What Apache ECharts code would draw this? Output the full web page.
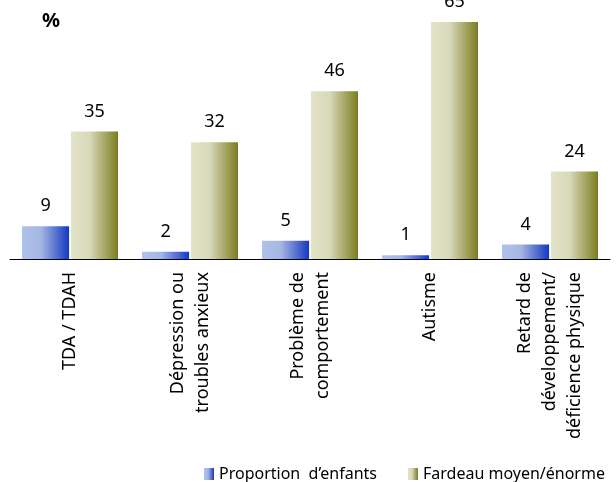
<!DOCTYPE html>
<html>
<head>
<meta charset="utf-8">
<script src="https://cdn.jsdelivr.net/npm/echarts@6/dist/echarts.min.js"></script>
<style>
html,body{margin:0;padding:0;background:#fff;}
#chart{width:616px;height:482px;}
</style>
</head>
<body>
<div id="chart"></div>
<script>
var categories = ["TDA / TDAH", "Dépression ou\ntroubles anxieux", "Problème de\ncomportement", "Autisme", "Retard de\ndéveloppement/\ndéficience physique"];
var seriesNames = ["Proportion  d’enfants", "Fardeau moyen/énorme"];
var proportionEnfants = [9, 2, 5, 1, 4];
var fardeau = [35, 32, 46, 65, 24];

var FONT = "Noto Sans";
function grad(c0, c1, c2) {
  return {type:'linear', x:0, y:0, x2:1, y2:0, colorStops:[
    {offset:0, color:c0},{offset:0.4, color:c1},{offset:1, color:c2}]};
}
var chart = echarts.init(document.getElementById('chart'), null, {renderer:'canvas'});
chart.setOption({
  animation:false,
  textStyle:{fontFamily:FONT},
  graphic:[{type:'text', left:42, top:11, style:{text:'%', font:'bold 20px "'+FONT+'"', fill:'#000'}}],
  legend:{
    left:204, top:466, width:700, padding:0, itemWidth:10, itemHeight:12, itemGap:31,
    icon:'rect',
    textStyle:{fontSize:16, color:'#000', fontFamily:FONT},
    data:seriesNames
  },
  grid:{left:10, right:6, top:22, bottom:223, containLabel:false},
  xAxis:{
    type:'category', data:categories,
    axisLine:{lineStyle:{color:'#000', width:1}},
    axisTick:{length:6, lineStyle:{color:'#000'}},
    axisLabel:{rotate:90, fontSize:18, color:'#000', margin:13, lineHeight:25, interval:0, fontFamily:FONT}
  },
  yAxis:{type:'value', min:0, max:65, show:false, splitLine:{show:false}},
  series:[
    {name:seriesNames[0], type:'bar', data:proportionEnfants, barCategoryGap:'20%', barGap:'4%',
     itemStyle:{color:grad('#b0c3e9','#a6b6e2','#1538c0')},
     label:{show:true, position:'top', distance:11, fontSize:18, color:'#000', fontFamily:FONT}},
    {name:seriesNames[1], type:'bar', data:fardeau, barCategoryGap:'20%', barGap:'4%',
     itemStyle:{color:grad('#e4e4c9','#d8d8bb','#7c7c1c')},
     label:{show:true, position:'top', distance:11, fontSize:18, color:'#000', fontFamily:FONT}}
  ]
});
</script>
</body>
</html>
